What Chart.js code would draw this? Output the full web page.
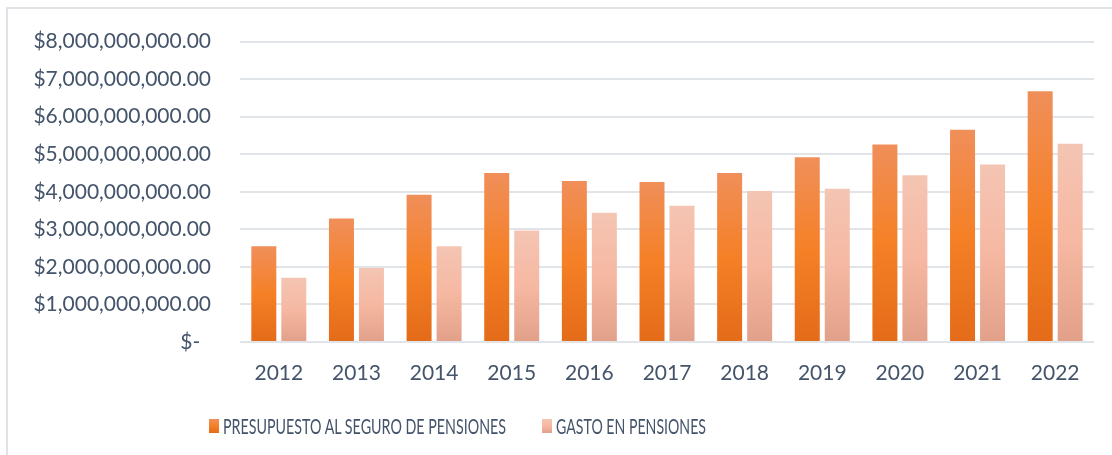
<!DOCTYPE html>
<html>
<head>
<meta charset="utf-8">
<script src="https://cdn.jsdelivr.net/npm/chart.js@4.4.1/dist/chart.umd.min.js"></script>
<style>
  html, body { margin: 0; padding: 0; background: #ffffff; overflow: hidden; }
  #wrap { position: relative; width: 1112px; height: 455px; }
  #frame { position: absolute; left: 6px; top: 7px; width: 1200px; height: 600px;
           border-left: 2px solid #dfe3e7; border-top: 2px solid #dfe3e7; box-sizing: border-box; }
  #c { position: absolute; left: 0; top: 0; }
  .leg { position: absolute; top: 415px; height: 22px; display: flex; align-items: center;
         font-family: 'Lato', sans-serif; font-size: 21.5px; color: #44546A; white-space: nowrap; }
  .leg .box { width: 10px; height: 14px; margin-right: 4px; flex: none; }
  .leg span { display: inline-block; transform-origin: left center; }
</style>
</head>
<body>
<div id="wrap">
  <div id="frame"></div>
  <canvas id="c" width="1112" height="455"></canvas>
  <div id="legend"></div>
</div>
<script>
const categories = ['2012','2013','2014','2015','2016','2017','2018','2019','2020','2021','2022'];
const presupuesto = [2550000000, 3290000000, 3920000000, 4500000000, 4290000000, 4260000000, 4500000000, 4920000000, 5260000000, 5650000000, 6680000000];
const gasto = [1710000000, 1970000000, 2550000000, 2970000000, 3440000000, 3630000000, 4020000000, 4080000000, 4440000000, 4730000000, 5280000000];
const seriesNames = ['PRESUPUESTO AL SEGURO DE PENSIONES', 'GASTO EN PENSIONES'];
const yMax = 8000000000;
const yStep = 1000000000;

const orangeStops = ['#f08f5a', '#f58026', '#e46b19'];
const pinkStops = ['#f4c5b3', '#f6b8a2', '#e2a089'];
const textColor = '#44546A';

function barGradient(stops) {
  return (ctx) => {
    const chart = ctx.chart;
    if (!chart.chartArea || ctx.type !== 'data') return stops[1];
    const ys = chart.scales.y;
    const top = ys.getPixelForValue(ctx.raw);
    const base = ys.getPixelForValue(0);
    if (!isFinite(top) || !isFinite(base) || top === base) return stops[1];
    const g = chart.ctx.createLinearGradient(0, top, 0, base);
    g.addColorStop(0, stops[0]);
    g.addColorStop(0.5, stops[1]);
    g.addColorStop(1, stops[2]);
    return g;
  };
}

function fmtMoney(v) {
  if (v === 0) return '$-  ';
  return '$' + v.toLocaleString('en-US', { minimumFractionDigits: 2, maximumFractionDigits: 2 });
}

const chart = new Chart(document.getElementById('c'), {
  type: 'bar',
  data: {
    labels: categories,
    datasets: [
      { label: seriesNames[0], data: presupuesto, backgroundColor: barGradient(orangeStops), borderWidth: 0,
        categoryPercentage: 0.773, barPercentage: 0.833 },
      { label: seriesNames[1], data: gasto, backgroundColor: barGradient(pinkStops), borderWidth: 0,
        categoryPercentage: 0.773, barPercentage: 0.833 }
    ]
  },
  options: {
    responsive: false,
    animation: false,
    layout: { padding: { left: 0, right: 18, top: 38, bottom: 0 } },
    plugins: { legend: { display: false }, tooltip: { enabled: false } },
    scales: {
      x: {
        grid: { display: false, drawTicks: false },
        border: { display: false },
        ticks: { color: textColor, font: { family: 'Lato', size: 21 }, padding: 19, maxRotation: 0 },
        afterFit: (s) => { s.height = 113; }
      },
      y: {
        min: 0, max: yMax,
        ticks: { stepSize: yStep, color: textColor, font: { family: 'Lato', size: 21 }, padding: 29,
                 callback: (v) => fmtMoney(v) },
        grid: { color: '#e1e5e9', lineWidth: 2, drawTicks: false },
        border: { display: false },
        afterFit: (s) => { s.width = 240; }
      }
    }
  }
});

// HTML legend built from dataset labels; text condensed to the reference's narrow face
const legendPos = [209, 542];
const legendTextWidth = [283, 150];
const legendGrad = [orangeStops, pinkStops];
const legendEl = document.getElementById('legend');
seriesNames.forEach((name, i) => {
  const item = document.createElement('div');
  item.className = 'leg';
  item.style.left = legendPos[i] + 'px';
  const box = document.createElement('div');
  box.className = 'box';
  box.style.background = 'linear-gradient(' + legendGrad[i][0] + ',' + legendGrad[i][1] + ',' + legendGrad[i][2] + ')';
  const txt = document.createElement('span');
  txt.textContent = name;
  item.appendChild(box);
  item.appendChild(txt);
  legendEl.appendChild(item);
  const w = txt.getBoundingClientRect().width;
  if (w > 0) txt.style.transform = 'scaleX(' + (legendTextWidth[i] / w).toFixed(3) + ')';
});
</script>
</body>
</html>
